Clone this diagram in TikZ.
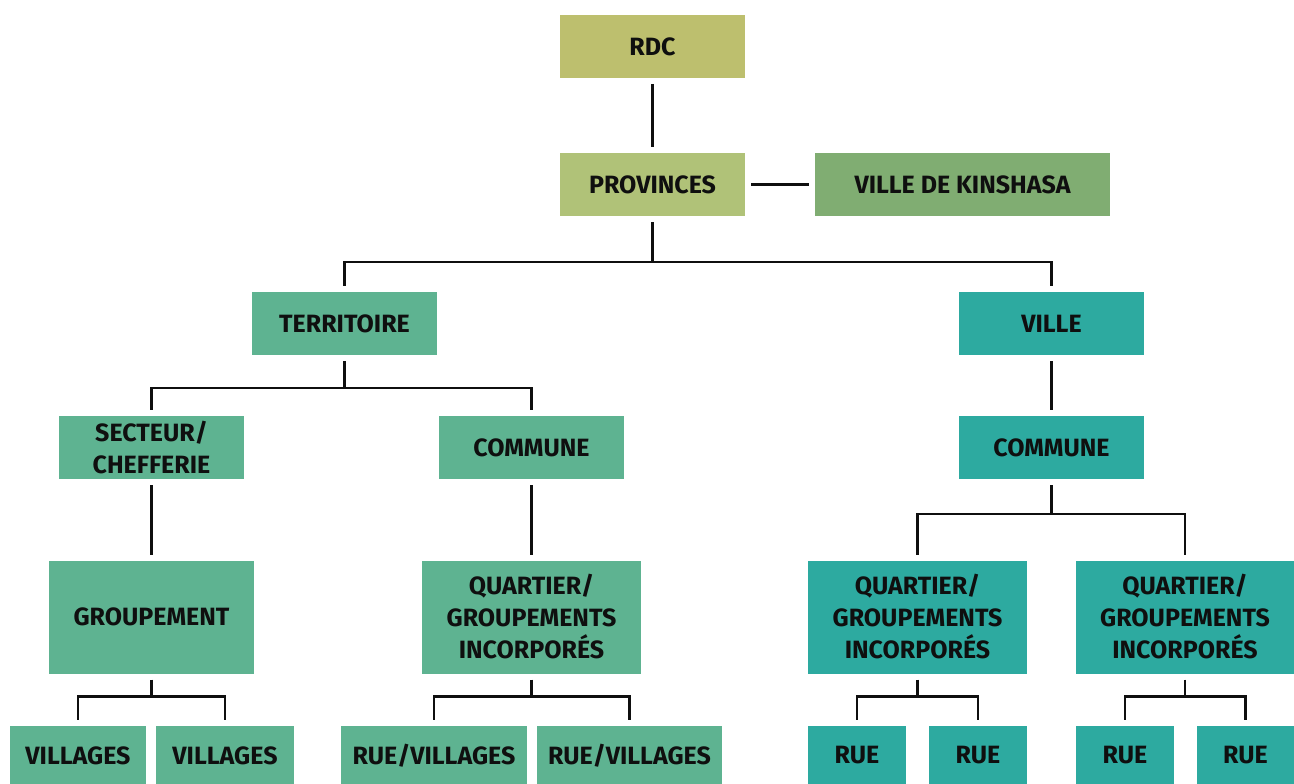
\documentclass[tikz,border=0pt]{standalone}
\usepackage{fontspec}
\setmainfont{Fira Sans}
\definecolor{olivea}{RGB}{189,191,110}
\definecolor{oliveb}{RGB}{176,194,120}
\definecolor{kingreen}{RGB}{128,173,114}
\definecolor{terrgreen}{RGB}{94,179,145}
\definecolor{villeteal}{RGB}{45,170,160}
\definecolor{ink}{RGB}{15,15,15}
\tikzset{
  box/.style={fill=#1, text=ink, minimum width=185pt, minimum height=63pt, align=center,
    inner sep=0pt, outer sep=6pt, font=\bfseries\fontsize{25}{32}\selectfont},
  link/.style={line width=2.5pt, draw=ink}
}
\begin{document}
\begin{tikzpicture}[x=1pt, y=-1pt]
  \useasboundingbox (0,0) rectangle (1294,784);
  % levels 1-2
  \node[box=olivea] (rdc) at (652.5,46.5) {RDC};
  \node[box=oliveb] (prov) at (652.5,184.5) {PROVINCES};
  \node[box=kingreen, minimum width=295pt] (kin) at (962.5,184.5) {VILLE DE KINSHASA};
  % level 3
  \node[box=terrgreen] (terr) at (344.5,323.5) {TERRITOIRE};
  \node[box=villeteal] (ville) at (1051.5,323.5) {VILLE};
  % level 4
  \node[box=terrgreen] (sect) at (151.5,447.5) {SECTEUR/\\CHEFFERIE};
  \node[box=terrgreen] (comL) at (531.5,447.5) {COMMUNE};
  \node[box=villeteal] (comR) at (1051.5,447.5) {COMMUNE};
  % level 5
  \node[box=terrgreen, minimum width=205pt, minimum height=113pt] (grp) at (151.5,617) {GROUPEMENT};
  \node[box=terrgreen, minimum width=219pt, minimum height=113pt] (quaL) at (531.5,617) {QUARTIER/\\GROUPEMENTS\\INCORPORÉS};
  \node[box=villeteal, minimum width=219pt, minimum height=113pt] (quaM) at (917.5,617) {QUARTIER/\\GROUPEMENTS\\INCORPORÉS};
  \node[box=villeteal, minimum width=218pt, minimum height=113pt] (quaR) at (1185,617) {QUARTIER/\\GROUPEMENTS\\INCORPORÉS};
  % level 6
  \node[box=terrgreen, minimum width=136pt, minimum height=59pt] (vilA) at (78,755.5) {VILLAGES};
  \node[box=terrgreen, minimum width=138pt, minimum height=59pt] (vilB) at (225,755.5) {VILLAGES};
  \node[box=terrgreen, minimum width=186pt, minimum height=59pt] (rvA) at (434,755.5) {RUE/VILLAGES};
  \node[box=terrgreen, minimum width=185pt, minimum height=59pt] (rvB) at (629.5,755.5) {RUE/VILLAGES};
  \foreach \n/\x in {rueA/857, rueB/978, rueC/1125, rueD/1245.5}
    \node[box=villeteal, minimum width=98pt, minimum height=59pt] (\n) at (\x,755.5) {RUE};
  % connectors
  \draw[link] (rdc) -- (prov);
  \draw[link] (prov) -- (kin);
  \draw[link] (ville) -- (comR);
  \draw[link] (sect) -- (grp);
  \draw[link] (comL) -- (quaL);
  \foreach \p/\d/\a/\b in {prov/40/terr/ville, terr/27/sect/comL, comR/29/quaM/quaR,
      grp/17/vilA/vilB, quaL/17/rvA/rvB, quaM/17/rueA/rueB, quaR/17/rueC/rueD}
    \draw[link] (\p.south) -- ++(0,\d) coordinate (bus) -| (\a.north) (bus) -| (\b.north);
\end{tikzpicture}
\end{document}
